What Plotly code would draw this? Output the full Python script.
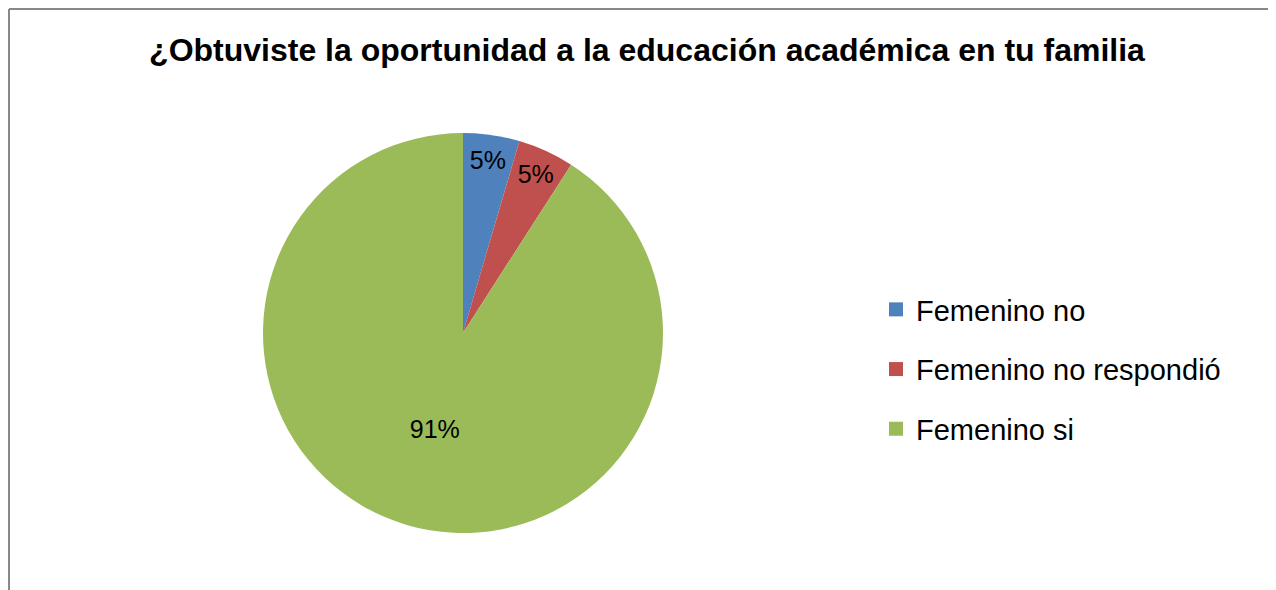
import plotly.graph_objects as go

categories = ["Femenino no", "Femenino no respondió", "Femenino si"]
values = [1, 1, 20]
colors = ["#4F81BD", "#C0504D", "#9BBB59"]
title = "¿Obtuviste la oportunidad a la educación académica en tu familia"

W, H = 1268, 582
FONT = "Liberation Sans, Arial"
fig = go.Figure()

fig.add_trace(go.Pie(
    labels=categories, values=values, sort=False, direction="clockwise", rotation=0,
    marker=dict(colors=colors, line=dict(color="white", width=0)),
    texttemplate="%{percent:.0%}", textposition="inside", insidetextorientation="horizontal",
    textfont=dict(family=FONT, size=25, color="black"),
    domain=dict(x=[255 / W, 655 / W], y=[(H - 525) / H, (H - 125) / H]),
    showlegend=False, hoverinfo="label+percent",
))

# legend entries
for c, col in zip(categories, colors):
    fig.add_trace(go.Scatter(
        x=[None], y=[None], mode="markers", name=c, legendgroup=c,
        marker=dict(symbol="square", size=14, color=col), showlegend=True,
    ))

fig.update_layout(
    width=W, height=H,
    margin=dict(l=0, r=0, t=0, b=0),
    paper_bgcolor="white", plot_bgcolor="white",
    title=dict(text="<b>" + title + "</b>", x=639 / W, xanchor="center", y=1 - 42 / H, yanchor="middle",
               font=dict(family=FONT, size=32, color="black")),
    xaxis=dict(visible=False), yaxis=dict(visible=False),
    legend=dict(x=868 / W, xanchor="left", y=1 - 276 / H, yanchor="top",
                font=dict(family=FONT, size=29, color="black"),
                tracegroupgap=19, itemclick=False, bgcolor="rgba(0,0,0,0)"),
    uniformtext=dict(minsize=25, mode="show"),
    shapes=[
        dict(type="line", xref="paper", yref="paper", x0=1 / W, x1=1.0, y0=1 - 1 / H, y1=1 - 1 / H,
             line=dict(color="#888888", width=2)),
        dict(type="line", xref="paper", yref="paper", x0=1 / W, x1=1 / W, y0=0, y1=1 - 1 / H,
             line=dict(color="#888888", width=2)),
    ],
)

fig.write_html("out.html")
